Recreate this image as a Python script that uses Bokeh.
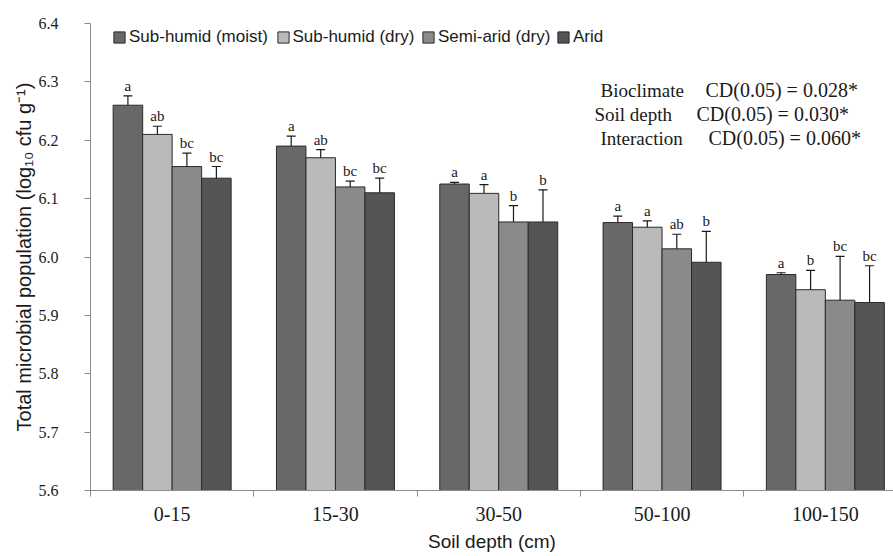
from bokeh.plotting import figure
from bokeh.models import (Range1d, FixedTicker, Whisker, TeeHead, ColumnDataSource,
                          Legend, LegendItem, Label, LabelSet, NumeralTickFormatter, Title)
from bokeh.embed import file_html
from bokeh.resources import INLINE

# ---------------- data ----------------
depths = ["0-15", "15-30", "30-50", "50-100", "100-150"]
series = ["Sub-humid (moist)", "Sub-humid (dry)", "Semi-arid (dry)", "Arid"]
colors = ["#686868", "#bababa", "#8a8a8a", "#555555"]

moist = [6.260, 6.190, 6.125, 6.059, 5.970]
moist_err = [0.016, 0.017, 0.003, 0.011, 0.003]
moist_sig = ["a", "a", "a", "a", "a"]

dry = [6.210, 6.170, 6.109, 6.051, 5.944]
dry_err = [0.014, 0.014, 0.015, 0.011, 0.033]
dry_sig = ["ab", "ab", "a", "a", "b"]

semiarid = [6.155, 6.120, 6.060, 6.014, 5.926]
semiarid_err = [0.023, 0.010, 0.028, 0.025, 0.075]
semiarid_sig = ["bc", "bc", "b", "ab", "bc"]

arid = [6.135, 6.110, 6.060, 5.991, 5.922]
arid_err = [0.020, 0.025, 0.055, 0.053, 0.063]
arid_sig = ["bc", "bc", "b", "b", "bc"]

y_ticks = [5.6, 5.7, 5.8, 5.9, 6.0, 6.1, 6.2, 6.3, 6.4]

x_title = "Soil depth (cm)"
y_title = "Total microbial population (log\u2081\u2080 cfu g\u207b\u00b9)"

cd_names = ["Bioclimate", "Soil depth", "Interaction"]
cd_texts = ["CD(0.05) = 0.028*", "CD(0.05) = 0.030*", "CD(0.05) = 0.060*"]

values = [moist, dry, semiarid, arid]
errors = [moist_err, dry_err, semiarid_err, arid_err]
sigs = [moist_sig, dry_sig, semiarid_sig, arid_sig]

# ---------------- figure ----------------
W, H = 893, 556
left, top, bottom = 90, 23, 64
cat_px = 163.3
frame_w = W - left
frame_h = H - top - bottom
p = figure(width=W, height=H,
           x_range=Range1d(0, frame_w / cat_px), y_range=Range1d(5.6, 6.4),
           output_backend="svg", toolbar_location=None,
           min_border_left=left, min_border_right=0, min_border_top=top,
           min_border_bottom=bottom,
           background_fill_color="white", border_fill_color="white")
p.outline_line_color = None
p.xgrid.grid_line_color = None
p.ygrid.grid_line_color = None

bw = 0.1806
serif = "Liberation Serif"
sans = "Liberation Sans"
txt = "#1a1a1a"


def dx(px):
    return (px - left) / cat_px


def dy(py):
    return 6.4 - (py - top) * 0.8 / frame_h


renderers = []
for j in range(4):
    xs = [i + 0.5 + (j - 1.5) * bw for i in range(len(depths))]
    src = ColumnDataSource(dict(
        x=xs, top=values[j],
        upper=[v + e for v, e in zip(values[j], errors[j])],
        lower=[v - e for v, e in zip(values[j], errors[j])],
        sig=sigs[j]))
    r = p.vbar(x="x", top="top", bottom=5.6, width=bw, source=src,
               fill_color=colors[j], line_color="#2a2a2a", line_width=1)
    renderers.append(r)
    w = Whisker(source=src, base="x", upper="upper", lower="lower",
                line_color="#1a1a1a", line_width=1.2,
                upper_head=TeeHead(size=9, line_color="#1a1a1a", line_width=1.2),
                lower_head=TeeHead(size=9, line_color="#1a1a1a", line_width=1.2))
    p.add_layout(w)
    ls = LabelSet(source=src, x="x", y="upper", text="sig", y_offset=5,
                  text_align="center", text_baseline="alphabetic",
                  text_font=serif, text_font_size="15px", text_color=txt)
    p.add_layout(ls)

# ---------------- axes ----------------
xa = p.xaxis[0]
xa.ticker = FixedTicker(ticks=[i + 0.5 for i in range(len(depths))],
                        minor_ticks=list(range(len(depths) + 1)))
xa.major_label_overrides = {i + 0.5: d for i, d in enumerate(depths)}
xa.major_tick_line_color = None
xa.major_tick_out = 0
xa.major_tick_in = 0
xa.minor_tick_out = 6
xa.minor_tick_in = 0
xa.minor_tick_line_color = "#8c8c8c"
xa.axis_line_color = "#8c8c8c"
xa.major_label_text_font = serif
xa.major_label_text_font_size = "20px"
xa.major_label_text_color = txt
xa.major_label_standoff = 10

ya = p.yaxis[0]
ya.ticker = FixedTicker(ticks=y_ticks, minor_ticks=[])
ya.formatter = NumeralTickFormatter(format="0.0")
ya.major_tick_out = 6
ya.major_tick_in = 0
ya.major_tick_line_color = "#8c8c8c"
ya.minor_tick_line_color = None
ya.axis_line_color = "#8c8c8c"
ya.major_label_text_font = serif
ya.major_label_text_font_size = "16px"
ya.major_label_text_color = txt
ya.major_label_standoff = 26

# axis titles (side-panel titles so they can be shifted like in the reference)
p.add_layout(Title(text=x_title, align="center", offset=-9, standoff=10,
                   text_font=sans, text_font_size="19px", text_font_style="normal",
                   text_color=txt), "below")
p.add_layout(Title(text=y_title, align="center", offset=51, standoff=2,
                   text_font=sans, text_font_size="20px", text_font_style="normal",
                   text_color=txt), "left")

# ---------------- legend (one per item, placed as in reference) ----------------
leg_x = [22, 185.5, 331, 466]
for j in range(4):
    leg = Legend(items=[LegendItem(label=series[j], renderers=[renderers[j]])],
                 location=(leg_x[j], frame_h - 26), orientation="horizontal",
                 padding=0, margin=0, spacing=0,
                 border_line_color=None, background_fill_alpha=0,
                 glyph_width=14, glyph_height=14, label_height=14,
                 label_standoff=3, label_text_font=sans,
                 label_text_font_size="17px", label_text_color=txt)
    p.add_layout(leg)

# ---------------- CD annotation ----------------
name_x = [600, 594, 600]
cd_x = [705, 696, 708]
line_y = [90, 114, 138]
for k in range(3):
    p.add_layout(Label(x=dx(name_x[k]), y=dy(line_y[k]), text=cd_names[k],
                       text_font=serif, text_font_size="19px", text_color=txt,
                       text_baseline="middle", text_align="left"))
    p.add_layout(Label(x=dx(cd_x[k]), y=dy(line_y[k]), text=cd_texts[k],
                       text_font=serif, text_font_size="20px", text_color=txt,
                       text_baseline="middle", text_align="left"))

open("out.html", "w").write(file_html(p, INLINE))
